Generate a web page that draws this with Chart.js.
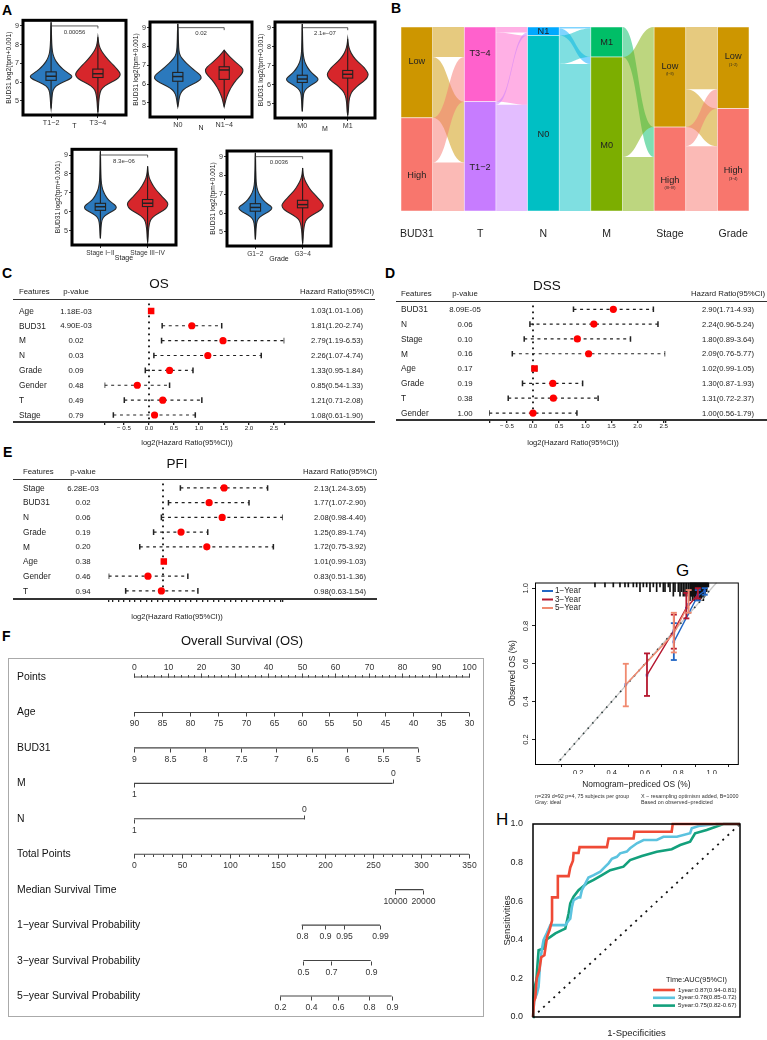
<!DOCTYPE html>
<html><head><meta charset="utf-8"><title>BUD31 figure</title>
<script src="https://cdn.jsdelivr.net/npm/chart.js@4.4.1/dist/chart.umd.min.js"></script>
<style>
html,body{margin:0;padding:0;background:#fff;}
#wrap{position:relative;width:767px;height:1040px;overflow:hidden;background:#fff;}
#wrap canvas{position:absolute;}
.plab{position:absolute;font-family:"Liberation Sans",Arial,Helvetica,sans-serif;line-height:1;color:#000;}
</style></head><body><div id="wrap">
<div class="plab" style="left:2px;top:3px;font-size:14px;font-weight:bold">A</div>
<div class="plab" style="left:391px;top:1px;font-size:14px;font-weight:bold">B</div>
<div class="plab" style="left:2px;top:266px;font-size:14px;font-weight:bold">C</div>
<div class="plab" style="left:385px;top:266px;font-size:14px;font-weight:bold">D</div>
<div class="plab" style="left:3px;top:445px;font-size:14px;font-weight:bold">E</div>
<div class="plab" style="left:2px;top:629px;font-size:14px;font-weight:bold">F</div>
<div class="plab" style="left:676px;top:562px;font-size:17px;">G</div>
<div class="plab" style="left:496px;top:811px;font-size:17px;">H</div>
</div>
<script>
// ================= DATA =================
// Panel A : violin plots
const violinGroups = ["T", "N", "M", "Stage", "Grade"];
const violinCats = [["T1\u22122","T3\u22124"],["N0","N1\u22124"],["M0","M1"],["Stage I\u2212II","Stage III\u2212IV"],["G1\u22122","G3\u22124"]];
const violinP = ["0.00056","0.02","2.1e\u221207","8.3e\u221206","0.0036"];
const densityLevels = [4.4,4.6,4.8,5.0,5.3,5.6,5.8,6.0,6.15,6.3,6.45,6.6,6.8,7.0,7.2,7.5,7.8,8.1,8.4,8.8,9.2];
const densT_low  = [0,0,0.02,0.03,0.05,0.09,0.22,0.55,0.85,1.00,0.85,0.65,0.45,0.30,0.18,0.08,0.045,0.03,0.02,0.015,0];
const densT_high = [0,0.02,0.03,0.04,0.07,0.13,0.30,0.60,0.85,0.97,1.00,0.92,0.78,0.62,0.45,0.25,0.09,0.03,0,0,0];
const densN_low  = [0,0,0,0.03,0.06,0.14,0.32,0.62,0.85,0.98,0.95,0.82,0.62,0.45,0.28,0.09,0.04,0.03,0.02,0.015,0];
const densN_high = [0,0,0,0.05,0.12,0.25,0.35,0.48,0.58,0.70,0.85,0.97,1.00,0.80,0.55,0.25,0,0,0,0,0];
const densM_low  = [0,0,0.02,0.03,0.05,0.09,0.24,0.58,0.88,1.00,0.82,0.60,0.40,0.26,0.15,0.07,0.04,0.03,0.02,0.015,0];
const densM_high = [0,0.03,0.04,0.05,0.08,0.18,0.34,0.55,0.75,0.90,0.99,1.00,0.88,0.72,0.50,0.25,0.10,0.03,0,0,0];
const densS_low  = [0,0,0.02,0.03,0.05,0.10,0.26,0.65,0.95,0.97,0.75,0.52,0.34,0.22,0.13,0.06,0.04,0.03,0.02,0.015,0];
const densS_high = [0,0.02,0.03,0.04,0.07,0.14,0.34,0.65,0.88,0.98,1.00,0.90,0.72,0.55,0.38,0.20,0.07,0.02,0,0,0];
const densG_low  = [0,0,0.02,0.03,0.05,0.10,0.25,0.62,0.92,1.00,0.78,0.55,0.36,0.23,0.13,0.06,0.04,0.03,0.02,0.015,0];
const densG_high = [0,0.02,0.03,0.04,0.07,0.14,0.32,0.62,0.86,0.98,1.00,0.90,0.74,0.57,0.40,0.22,0.08,0.02,0,0,0];
const violinDens = [[densT_low,densT_high],[densN_low,densN_high],[densM_low,densM_high],[densS_low,densS_high],[densG_low,densG_high]];
const violinMaxW = [[0.46,0.48],[0.52,0.41],[0.36,0.45],[0.35,0.43],[0.36,0.44]];
const boxQ1  = [[6.10,6.25],[6.15,6.25],[6.12,6.35],[6.08,6.28],[6.10,6.28]];
const boxMed = [[6.32,6.45],[6.40,6.75],[6.30,6.55],[6.27,6.45],[6.30,6.45]];
const boxQ3  = [[6.55,6.70],[6.62,6.92],[6.50,6.75],[6.45,6.65],[6.50,6.68]];
const bracketY = 9.0;

// Panel B : alluvial (counts)
const sankeyAxes = ["BUD31","T","N","M","Stage","Grade"];
const sankeyStrata = [["Low","High"],["T3\u22124","T1\u22122"],["N1","N0"],["M1","M0"],["Low","High"],["Low","High"]];
const sankeySub = [["",""],["",""],["",""],["",""],["(I\u2212II)","(III\u2212IV)"],["(1\u22122)","(3\u22124)"]];
const flowBUD31_T = [[39,79],[58,63]];
const flowT_N = [[7,90],[4,138]];
const flowN_M = [[2,9],[37,191]];
const flowM_Stage = [[0,39],[130,70]];
const flowStage_Grade = [[81,49],[25,84]];

// Panel C : OS
const osFeatures = ["Age","BUD31","M","N","Grade","Gender","T","Stage"];
const osP  = ["1.18E-03","4.90E-03","0.02","0.03","0.09","0.48","0.49","0.79"];
const osHR = [1.03,1.81,2.79,2.26,1.33,0.85,1.21,1.08];
const osLo = [1.01,1.20,1.19,1.07,0.95,0.54,0.71,0.61];
const osHi = [1.06,2.74,6.53,4.74,1.84,1.33,2.08,1.90];
// Panel D : DSS
const dssFeatures = ["BUD31","N","Stage","M","Age","Grade","T","Gender"];
const dssP  = ["8.09E-05","0.06","0.10","0.16","0.17","0.19","0.38","1.00"];
const dssHR = [2.90,2.24,1.80,2.09,1.02,1.30,1.31,1.00];
const dssLo = [1.71,0.96,0.89,0.76,0.99,0.87,0.72,0.56];
const dssHi = [4.93,5.24,3.64,5.77,1.05,1.93,2.37,1.79];
// Panel E : PFI
const pfiFeatures = ["Stage","BUD31","N","Grade","M","Age","Gender","T"];
const pfiP  = ["6.28E-03","0.02","0.06","0.19","0.20","0.38","0.46","0.94"];
const pfiHR = [2.13,1.77,2.08,1.25,1.72,1.01,0.83,0.98];
const pfiLo = [1.24,1.07,0.98,0.89,0.75,0.99,0.51,0.63];
const pfiHi = [3.65,2.90,4.40,1.74,3.92,1.03,1.36,1.54];
const forestTicks = [-0.5,0,0.5,1,1.5,2,2.5];

// Panel F : nomogram
const nomoRowLabels = ["Points","Age","BUD31","M","N","Total Points","Median Survival Time","1\u2212year Survival Probability","3\u2212year Survival Probability","5\u2212year Survival Probability"];
const pointsTicks = [0,10,20,30,40,50,60,70,80,90,100];
const ageTicks = [90,85,80,75,70,65,60,55,50,45,40,35,30];
const ageAtPoints = [90,30];
const bud31Ticks = [9,8.5,8,7.5,7,6.5,6,5.5,5];
const bud31PointsAtEnds = [0,84.9];
const mLevels = ["1","0"]; const mPoints = [0,77.2];
const nLevels = ["1","0"]; const nPoints = [0,50.8];
const totalTicks = [0,50,100,150,200,250,300,350];
const totalMax = 350;
const medianLabels = ["10000","20000"]; const medianTotal = [272.7,302.3];
const surv1Labels = ["0.8","0.9","0.95","0.99"]; const surv1Total = [175.2,199.6,219.4,257.0];
const surv3Labels = ["0.5","0.7","0.9"]; const surv3Total = [176.9,205.5,247.3];
const surv5Labels = ["0.2","0.4","0.6","0.8","0.9"]; const surv5Total = [152.5,184.9,212.8,245.5,269.2];

// Panel G : calibration
const cal1X = [0.773,0.917,0.958]; const cal1Y = [0.716,0.96,0.985]; const cal1Lo = [0.62,0.935,0.965]; const cal1Hi = [0.815,0.99,1.0];
const cal3X = [0.612,0.773,0.848,0.917]; const cal3Y = [0.54,0.775,0.895,0.965]; const cal3Lo = [0.43,0.68,0.84,0.945]; const cal3Hi = [0.655,0.86,0.975,1.0];
const cal5X = [0.485,0.773,0.862]; const cal5Y = [0.49,0.76,0.915]; const cal5Lo = [0.375,0.66,0.87]; const cal5Hi = [0.60,0.87,0.99];
const calLabels = ["1\u2212Year","3\u2212Year","5\u2212Year"];
const rugX = [0.30,0.36,0.41,0.45,0.48,0.50,0.53,0.55,0.57,0.59,0.61,0.63,0.65,0.67,0.69,0.71,0.72,0.74,0.75,0.77,0.78,0.80,0.81,0.82,0.83,0.84,0.85,0.86,0.87,0.875,0.88,0.885,0.89,0.895,0.90,0.905,0.91,0.915,0.92,0.925,0.93,0.935,0.94,0.945,0.95,0.955,0.96,0.965,0.97,0.975,0.98];
const rugN = [1,1,1,1,1,1,1,1,2,1,1,2,1,2,1,2,2,1,2,3,2,2,3,2,3,3,2,3,4,3,3,4,3,4,4,3,4,3,4,4,3,4,4,3,4,3,3,2,2,1,1];

// Panel H : time-dependent ROC
const roc1X = [0,0.005,0.011,0.018,0.03,0.04,0.055,0.068,0.08,0.092,0.092,0.12,0.12,0.172,0.18,0.193,0.196,0.22,0.225,0.357,0.365,0.486,0.49,0.67,0.675,1.0];
const roc1Y = [0,0.08,0.10,0.2,0.24,0.31,0.32,0.415,0.45,0.50,0.62,0.62,0.73,0.73,0.775,0.81,0.85,0.85,0.88,0.88,0.925,0.925,0.96,0.96,1.0,1.0];
const roc3X = [0,0.006,0.019,0.027,0.035,0.043,0.051,0.067,0.084,0.156,0.172,0.18,0.188,0.196,0.22,0.228,0.236,0.252,0.268,0.293,0.325,0.349,0.365,0.381,0.405,0.421,0.453,0.469,0.502,0.534,0.598,0.63,0.695,0.759,0.767,0.8,0.887,1.0];
const roc3Y = [0,0.087,0.121,0.156,0.29,0.35,0.40,0.435,0.476,0.476,0.5,0.51,0.57,0.605,0.62,0.62,0.657,0.69,0.723,0.735,0.753,0.779,0.796,0.82,0.83,0.848,0.857,0.874,0.90,0.917,0.917,0.934,0.934,0.952,0.978,0.99,1.0,1.0];
const roc5X = [0,0.003,0.008,0.016,0.027,0.051,0.06,0.084,0.108,0.14,0.156,0.172,0.18,0.196,0.22,0.26,0.293,0.333,0.373,0.437,0.469,0.526,0.598,0.67,0.711,0.759,0.783,0.839,0.92,1.0];
const roc5Y = [0,0.104,0.156,0.19,0.346,0.355,0.398,0.415,0.433,0.45,0.458,0.536,0.588,0.623,0.657,0.692,0.71,0.735,0.761,0.779,0.813,0.834,0.856,0.869,0.891,0.908,0.952,0.969,1.0,1.0];
const rocLabels = ["1year:0.87(0.94-0.81)","3year:0.78(0.85-0.72)","5year:0.75(0.82-0.67)"];

// ================= HELPERS =================
const FONT = '"Liberation Sans", Arial, Helvetica, sans-serif';
Chart.defaults.font.family = FONT;
Chart.defaults.color = '#222';
const wrap = document.getElementById('wrap');
function mk(left, top, w, h, cfg){
  const c = document.createElement('canvas');
  c.width = w; c.height = h;
  c.style.left = left+'px'; c.style.top = top+'px'; c.style.width = w+'px'; c.style.height = h+'px';
  wrap.appendChild(c);
  cfg.options = Object.assign({responsive:false, animation:false, devicePixelRatio:1, events:[]}, cfg.options||{});
  cfg.options.plugins = Object.assign({legend:{display:false}, tooltip:{enabled:false}}, cfg.options.plugins||{});
  return new Chart(c.getContext('2d'), cfg);
}
function txt(ctx, s, x, y, size, align, color, weight){
  ctx.font = (weight?weight+' ':'') + size + 'px ' + FONT;
  ctx.fillStyle = color || '#222'; ctx.textAlign = align || 'left'; ctx.textBaseline = 'middle';
  ctx.fillText(s, x, y);
}
function hexA(hex, a){ const n = parseInt(hex.slice(1),16); return 'rgba('+(n>>16)+','+((n>>8)&255)+','+(n&255)+','+a+')'; }
function seg(ctx,x1,y1,x2,y2){ ctx.beginPath(); ctx.moveTo(x1,y1); ctx.lineTo(x2,y2); ctx.stroke(); }
function range(a,b,s){ const r=[]; for(let v=a; v<=b+1e-9; v+=s) r.push(+v.toFixed(6)); return r; }

// ================= PANEL A =================
const violinColors = ['#2B79BD','#D7262B'];
const violinLayout = [
  {left:0,  top:15,  w:130, h:122, pr:4, pt:5, pb:6.5, xh:15.5},
  {left:127,top:15,  w:130, h:122, pr:5, pt:7, pb:4.5, xh:15.5},
  {left:252,top:15,  w:128, h:123, pr:5, pt:7, pb:4.5, xh:15.5},
  {left:49, top:144, w:131, h:124, pr:4, pt:5, pb:5.8, xh:17.2},
  {left:204,top:144, w:131, h:124, pr:4, pt:7, pb:4.8, xh:17.2}
];
function drawViolin(ctx, xs, ys, cx, dens, maxW, color, q1, med, q3){
  let a = dens.findIndex(v=>v>0);
  let b = dens.length-1-[...dens].reverse().findIndex(v=>v>0);
  const lo = Math.max(a-1,0), hi = Math.min(b+1,dens.length-1);
  const pts = [];
  for(let i=lo;i<=hi;i++) pts.push([xs.getPixelForValue(cx+dens[i]*maxW), ys.getPixelForValue(densityLevels[i])]);
  for(let i=hi;i>=lo;i--) pts.push([xs.getPixelForValue(cx-dens[i]*maxW), ys.getPixelForValue(densityLevels[i])]);
  ctx.beginPath(); ctx.moveTo(pts[0][0],pts[0][1]);
  for(let i=1;i<pts.length-1;i++){
    const mx=(pts[i][0]+pts[i+1][0])/2, my=(pts[i][1]+pts[i+1][1])/2;
    ctx.quadraticCurveTo(pts[i][0],pts[i][1],mx,my);
  }
  ctx.lineTo(pts[pts.length-1][0],pts[pts.length-1][1]); ctx.closePath();
  ctx.fillStyle = color; ctx.fill();
  ctx.strokeStyle = '#2a2a2a'; ctx.lineWidth = 1.1; ctx.stroke();
  const px = xs.getPixelForValue(cx);
  ctx.strokeStyle = '#1a1a1a'; ctx.lineWidth = 1;
  seg(ctx, px, ys.getPixelForValue(densityLevels[lo]), px, ys.getPixelForValue(densityLevels[hi]));
  const bl = xs.getPixelForValue(cx-0.11), br = xs.getPixelForValue(cx+0.11);
  const yq1 = ys.getPixelForValue(q1), yq3 = ys.getPixelForValue(q3), ym = ys.getPixelForValue(med);
  ctx.fillStyle = color; ctx.fillRect(bl, yq3, br-bl, yq1-yq3);
  ctx.strokeStyle = '#222'; ctx.lineWidth = 1.1; ctx.strokeRect(bl, yq3, br-bl, yq1-yq3);
  ctx.lineWidth = 1.5; seg(ctx, bl, ym, br, ym);
}
violinGroups.forEach((g,i)=>{
  const L = violinLayout[i];
  const plug = {id:'violin'+i, afterDatasetsDraw(chart){
    const ctx=chart.ctx, xs=chart.scales.x, ys=chart.scales.y, a=chart.chartArea;
    ctx.save(); ctx.beginPath(); ctx.rect(a.left,a.top,a.right-a.left,a.bottom-a.top); ctx.clip();
    [0,1].forEach(k=>drawViolin(ctx,xs,ys,k+1,violinDens[i][k],violinMaxW[i][k],violinColors[k],boxQ1[i][k],boxMed[i][k],boxQ3[i][k]));
    const yb=ys.getPixelForValue(bracketY), x1=xs.getPixelForValue(1), x2=xs.getPixelForValue(2);
    ctx.strokeStyle='#333'; ctx.lineWidth=0.8;
    ctx.beginPath(); ctx.moveTo(x1,yb+2.5); ctx.lineTo(x1,yb); ctx.lineTo(x2,yb); ctx.lineTo(x2,yb+2.5); ctx.stroke();
    txt(ctx, violinP[i], (x1+x2)/2, yb+6, 6, 'center', '#333');
    ctx.restore();
    ctx.lineWidth=3; ctx.strokeStyle='#000'; ctx.strokeRect(a.left,a.top,a.right-a.left,a.bottom-a.top);
  }};
  mk(L.left, L.top, L.w, L.h, {type:'scatter',
    data:{datasets:[{data:boxMed[i].map((m,k)=>({x:k+1,y:m})), pointRadius:0}]},
    options:{layout:{padding:{left:0,right:L.pr,top:L.pt,bottom:L.pb}},
      scales:{
        x:{type:'linear',min:0.4,max:2.6,
           afterBuildTicks:s=>{s.ticks=[{value:1},{value:2}];},
           ticks:{callback:v=>violinCats[i][Math.round(v)-1], font:{size:i>2?6.6:7.2}, color:'#333', padding:1, maxRotation:0, autoSkip:false},
           grid:{display:true, drawOnChartArea:false, tickLength:3, color:'#333'}, border:{display:false},
           title:{display:true, text:g, font:{size:7}, color:'#222', padding:{top:0,bottom:0}},
           afterFit:s=>{s.height=L.xh;}},
        y:{type:'linear',min:4.25,max:9.3,
           afterBuildTicks:s=>{s.ticks=[5,6,7,8,9].map(v=>({value:v}));},
           ticks:{font:{size:7.2}, color:'#333', padding:1},
           grid:{display:true, drawOnChartArea:false, tickLength:3, color:'#333'}, border:{display:false},
           title:{display:true, text:'BUD31 log2(tpm+0.001)', font:{size:6.7}, color:'#222', padding:{top:5.5,bottom:0}},
           afterFit:s=>{s.width=23;}}
      }},
    plugins:[plug]});
});

// ================= PANEL B =================
const strataColors = [["#CD9600","#F8766D"],["#FF61CC","#C77CFF"],["#00A9FF","#00BFC4"],["#00BE67","#7CAE00"],["#CD9600","#F8766D"],["#CD9600","#F8766D"]];
const sankeyFlows = [flowBUD31_T, flowT_N, flowN_M, flowM_Stage, flowStage_Grade];
function strataTotals(a){
  if(a===0) return sankeyFlows[0].map(r=>r.reduce((s,v)=>s+v,0));
  const F = sankeyFlows[a-1];
  return F[0].map((_,t)=>F.reduce((s,r)=>s+r[t],0));
}
const sankeyTotal = strataTotals(0).reduce((s,v)=>s+v,0);
const sankeyPlugin = {id:'sankey', afterDatasetsDraw(chart){
  const ctx=chart.ctx, xs=chart.scales.x, ys=chart.scales.y, W=0.25;
  const bounds = sankeyAxes.map((_,a)=>{ let top=sankeyTotal; return strataTotals(a).map(c=>{ const b={top:top, bot:top-c}; top-=c; return b; }); });
  sankeyFlows.forEach((F,a)=>{
    const lOff = bounds[a].map(b=>b.top), rOff = bounds[a+1].map(b=>b.top);
    const lpos={}, rpos={};
    F.forEach((row,s)=>row.forEach((c,t)=>{ lpos[s+'_'+t]=[lOff[s], lOff[s]-c]; lOff[s]-=c; }));
    for(let t=0;t<F[0].length;t++) for(let s=0;s<F.length;s++){ const c=F[s][t]; rpos[s+'_'+t]=[rOff[t], rOff[t]-c]; rOff[t]-=c; }
    const x0=xs.getPixelForValue(a+1+W), x1=xs.getPixelForValue(a+2-W), xm=(x0+x1)/2;
    F.forEach((row,s)=>row.forEach((c,t)=>{
      if(c<=0) return;
      const l=lpos[s+'_'+t], r=rpos[s+'_'+t];
      const yl0=ys.getPixelForValue(l[0]), yl1=ys.getPixelForValue(l[1]), yr0=ys.getPixelForValue(r[0]), yr1=ys.getPixelForValue(r[1]);
      ctx.beginPath(); ctx.moveTo(x0,yl0); ctx.bezierCurveTo(xm,yl0,xm,yr0,x1,yr0); ctx.lineTo(x1,yr1);
      ctx.bezierCurveTo(xm,yr1,xm,yl1,x0,yl1); ctx.closePath();
      ctx.fillStyle = hexA(strataColors[a][s],0.5); ctx.fill();
    }));
  });
  bounds.forEach((B,a)=>{
    const xl=xs.getPixelForValue(a+1-W), xr=xs.getPixelForValue(a+1+W), xc=(xl+xr)/2;
    B.forEach((b,k)=>{
      const yt=ys.getPixelForValue(b.top), yb=ys.getPixelForValue(b.bot);
      ctx.fillStyle=strataColors[a][k]; ctx.fillRect(xl,yt,xr-xl,yb-yt);
      ctx.strokeStyle='rgba(255,255,255,0.7)'; ctx.lineWidth=0.7; ctx.strokeRect(xl,yt,xr-xl,yb-yt);
    });
    B.forEach((b,k)=>{
      const yt=ys.getPixelForValue(b.top), yb=ys.getPixelForValue(b.bot);
      let yc=(yt+yb)/2; const hgt=yb-yt;
      if(hgt>50) yc += (k===0?-11:11);
      txt(ctx, sankeyStrata[a][k], xc, yc, 9.2, 'center', '#222');
      if(sankeySub[a][k]) txt(ctx, sankeySub[a][k], xc, yc+8, 3.6, 'center', '#222');
    });
  });
}};
mk(380,20,387,220,{type:'scatter', data:{datasets:[{data:[], pointRadius:0}]},
  options:{layout:{padding:{left:21,right:18,top:7,bottom:0}},
    scales:{
      x:{type:'linear',min:0.75,max:6.25, afterBuildTicks:s=>{s.ticks=sankeyAxes.map((_,i)=>({value:i+1}));},
         ticks:{callback:v=>sankeyAxes[Math.round(v)-1], font:{size:10.5}, color:'#222', padding:8.8, maxRotation:0, autoSkip:false},
         grid:{display:false}, border:{display:false}, afterFit:s=>{s.height=29;}},
      y:{display:false, min:0, max:sankeyTotal}
    }},
  plugins:[sankeyPlugin]});

// ================= PANELS C / D / E =================
function fmtTick(v){ return v < -1e-9 ? '\u2212 '+Math.abs(v).toFixed(1) : Math.abs(v).toFixed(1); }
function forest(P){
  const lx=P.lo.map(v=>Math.log2(v)), hx=P.hi.map(v=>Math.log2(v)), px=P.hr.map(v=>Math.log2(v));
  const xmin=Math.min(...lx), xmax=Math.max(...hx);
  const ticks=[xmin].concat(P.ticks,[xmax]);
  const z=P.zeroX-P.left;
  const padL=z+xmin*P.ppu, padR=P.w-(z+xmax*P.ppu);
  const datasets=[{data:px.map((v,i)=>({x:v,y:i})),
    pointStyle:px.map((v,i)=>hx[i]-lx[i]<0.15?'rect':'circle'),
    pointRadius:px.map((v,i)=>hx[i]-lx[i]<0.15?4.6:3.6),
    pointBackgroundColor:'#FF0000', pointBorderWidth:0, order:0}];
  lx.forEach((v,i)=>datasets.push({data:[{x:v,y:i},{x:hx[i],y:i}], showLine:true, borderColor:'#222', borderWidth:1.2, borderDash:[3,3.6],
    pointStyle:'line', pointRotation:90, pointRadius:2.8, pointBorderColor:'#222', pointBorderWidth:1.5, order:1}));
  datasets.push({data:[{x:0,y:P.ymin+0.3},{x:0,y:P.ymax-0.15}], showLine:true, borderColor:'#111', borderWidth:1.8, borderDash:[1.8,4.2], pointRadius:0, order:2});
  const plug={id:'forest'+P.title, afterDraw(chart){
    const ctx=chart.ctx, a=chart.chartArea, ys=chart.scales.y;
    txt(ctx, P.title, P.titleX, a.top-15, 13.5, 'center', '#111');
    txt(ctx, 'Features', P.fx, a.top-7.5, 7.8, 'left', '#222');
    txt(ctx, 'p-value', P.pX, a.top-7.5, 7.8, 'center', '#222');
    txt(ctx, 'Hazard Ratio(95%CI)', P.hrX, a.top-7.5, 7.8, 'center', '#222');
    ctx.strokeStyle='#333'; ctx.lineWidth=1.2; seg(ctx, P.l0, a.top+0.5, P.l1, a.top+0.5);
    ctx.lineWidth=2.2; seg(ctx, P.l0, a.bottom, P.l1, a.bottom);
    P.features.forEach((f,i)=>{
      const yy=ys.getPixelForValue(i)+0.5;
      txt(ctx, f, P.fx, yy, 8.3, 'left', '#222');
      txt(ctx, P.p[i], P.pX, yy, 7.8, 'center', '#222');
      txt(ctx, P.hr[i].toFixed(2)+'('+P.lo[i].toFixed(2)+'-'+P.hi[i].toFixed(2)+')', P.hrX, yy, 7.6, 'center', '#222');
    });
    txt(ctx, 'log2(Hazard Ratio(95%CI))', P.atX, P.atY, 7.6, 'center', '#222');
  }};
  mk(P.left,P.top,P.w,P.h,{type:'scatter', data:{datasets},
    options:{layout:{padding:{left:padL,right:padR,top:P.padT,bottom:P.padB}},
      scales:{
        x:{type:'linear',min:xmin,max:xmax, afterBuildTicks:s=>{s.ticks=ticks.map(v=>({value:v}));},
           ticks:{autoSkip:false, maxRotation:0, font:{size:6.2}, color:'#222', padding:0,
                  callback:v=>(P.noLabels||Math.abs(v-xmin)<1e-6||Math.abs(v-xmax)<1e-6)?'':fmtTick(v)},
           grid:{display:true, drawOnChartArea:false, drawTicks:true, tickLength:3, color:'#222', lineWidth:1.3},
           border:{display:false}, afterFit:s=>{s.height=10;}},
        y:{display:false, min:P.ymin, max:P.ymax, reverse:true}
      }},
    plugins:[plug]});
}
forest({title:'OS', features:osFeatures, p:osP, hr:osHR, lo:osLo, hi:osHi, ticks:forestTicks,
  left:0, top:262, w:380, h:190, zeroX:149, ppu:50, padT:37, padB:20, ymin:-0.8, ymax:7.47,
  fx:19, pX:76, hrX:337, l0:13, l1:375, titleX:159, atX:187, atY:181});
forest({title:'DSS', features:dssFeatures, p:dssP, hr:dssHR, lo:dssLo, hi:dssHi, ticks:forestTicks,
  left:380, top:262, w:387, h:190, zeroX:533, ppu:52.3, padT:39, padB:22, ymin:-0.56, ymax:7.47,
  fx:21, pX:85, hrX:348, l0:16, l1:387, titleX:167, atX:193, atY:181});
forest({title:'PFI', features:pfiFeatures, p:pfiP, hr:pfiHR, lo:pfiLo, hi:pfiHi, ticks:range(-0.9,2.1,0.1), noLabels:true,
  left:0, top:442, w:380, h:190, zeroX:163, ppu:56, padT:37, padB:23, ymin:-0.61, ymax:7.55,
  fx:23, pX:83, hrX:340, l0:13, l1:377, titleX:177, atX:177, atY:175});

// ================= PANEL F =================
const nomoRows = [
  {ticks:pointsTicks.map(v=>({p:v,t:String(v)})), minor:range(0,100,2), dir:-1},
  {ticks:ageTicks.map(v=>({p:(ageAtPoints[0]-v)/(ageAtPoints[0]-ageAtPoints[1])*100, t:String(v)})), dir:1},
  {ticks:bud31Ticks.map(v=>({p:(bud31Ticks[0]-v)/(bud31Ticks[0]-bud31Ticks[bud31Ticks.length-1])*bud31PointsAtEnds[1], t:String(v)})), dir:1},
  {ticks:mLevels.map((t,k)=>({p:mPoints[k], t:t, dir:k===0?1:-1})), dir:1},
  {ticks:nLevels.map((t,k)=>({p:nPoints[k], t:t, dir:k===0?1:-1})), dir:1},
  {ticks:totalTicks.map(v=>({p:v/totalMax*100, t:String(v)})), minor:range(0,350,10).map(v=>v/totalMax*100), dir:1},
  {ticks:medianLabels.map((t,k)=>({p:medianTotal[k]/totalMax*100, t:t})), dir:1},
  {ticks:surv1Labels.map((t,k)=>({p:surv1Total[k]/totalMax*100, t:t})), dir:1},
  {ticks:surv3Labels.map((t,k)=>({p:surv3Total[k]/totalMax*100, t:t})), dir:1},
  {ticks:surv5Labels.map((t,k)=>({p:surv5Total[k]/totalMax*100, t:t})), dir:1}
];
const nomoPlugin = {id:'nomo', afterDatasetsDraw(chart){
  const ctx=chart.ctx, xs=chart.scales.x, ys=chart.scales.y;
  ctx.strokeStyle='#aaa'; ctx.lineWidth=1; ctx.strokeRect(8.5,33.5,475,358);
  txt(ctx,'Overall Survival (OS)',242,16,13,'center','#111');
  nomoRows.forEach((r,i)=>{
    const yy=Math.round(ys.getPixelForValue(i))+0.5;
    txt(ctx, nomoRowLabels[i], 17, yy, 10.4, 'left', '#111');
    ctx.strokeStyle='#444'; ctx.lineWidth=1;
    (r.minor||[]).forEach(p=>{ const xx=Math.round(xs.getPixelForValue(p))+0.5; seg(ctx,xx,yy,xx,yy+r.dir*2.5); });
    r.ticks.forEach(tk=>{
      const d=tk.dir||r.dir, xx=Math.round(xs.getPixelForValue(tk.p))+0.5;
      seg(ctx,xx,yy,xx,yy+d*4);
      txt(ctx, tk.t, xx, yy+d*(d>0?11:10), 8.6, 'center', '#333');
    });
  });
}};
mk(0,625,490,395,{type:'scatter',
  data:{datasets:nomoRows.map((r,i)=>{ const ps=r.ticks.map(t=>t.p); return {data:[{x:Math.min(...ps),y:i},{x:Math.max(...ps),y:i}], showLine:true, borderColor:'#444', borderWidth:1.1, pointRadius:0}; })},
  options:{layout:{padding:{left:134,right:21,top:34.3,bottom:6.3}},
    scales:{x:{display:false,type:'linear',min:0,max:100}, y:{display:false,min:-0.5,max:9.5,reverse:true}}},
  plugins:[nomoPlugin]});

// ================= PANEL G =================
const calColors = ['#2166C4','#B5172F','#F08A70'];
const calSeries = [[cal1X,cal1Y,cal1Lo,cal1Hi],[cal3X,cal3Y,cal3Lo,cal3Hi],[cal5X,cal5Y,cal5Lo,cal5Hi]];
const calPlugin = {id:'calib', afterDraw(chart){
  const ctx=chart.ctx, xs=chart.scales.x, ys=chart.scales.y, a=chart.chartArea;
  calSeries.forEach((s,k)=>{
    ctx.strokeStyle=calColors[k]; ctx.lineWidth=1.8;
    s[0].forEach((xv,i)=>{
      const xx=xs.getPixelForValue(xv), y1=ys.getPixelForValue(s[2][i]), y2=ys.getPixelForValue(s[3][i]);
      seg(ctx,xx,y1,xx,y2); seg(ctx,xx-3,y1,xx+3,y1); seg(ctx,xx-3,y2,xx+3,y2);
    });
  });
  ctx.strokeStyle='#000'; ctx.lineWidth=1; ctx.strokeRect(a.left+0.5,a.top+0.5,a.right-a.left,a.bottom-a.top);
  [0.2,0.4,0.6,0.8,1.0].forEach(v=>{
    const yy=ys.getPixelForValue(v);
    ctx.save(); ctx.translate(a.left-9,yy); ctx.rotate(-Math.PI/2); txt(ctx,v.toFixed(1),0,0,7.5,'center','#222'); ctx.restore();
  });
  ctx.save(); ctx.translate(a.left-22,(a.top+a.bottom)/2); ctx.rotate(-Math.PI/2); txt(ctx,'Observed OS (%)',0,0,8.4,'center','#222'); ctx.restore();
  txt(ctx,'Nomogram\u2212prediced OS (%)',(a.left+a.right)/2,207,8.4,'center','#222');
  calLabels.forEach((l,k)=>{
    const yy=a.top+8.5+k*8.5;
    ctx.strokeStyle=calColors[k]; ctx.lineWidth=2; seg(ctx,a.left+7,yy,a.left+18,yy);
    txt(ctx,l,a.left+20,yy,8.2,'left','#222');
  });
  txt(ctx,'n=239 d=92 p=4, 75 subjects per group',a.left,219,5.4,'left','#333');
  txt(ctx,'Gray: ideal',a.left,224.5,5.4,'left','#333');
  txt(ctx,'X \u2212 resampling optimism added, B=1000',a.left+106,219,5.4,'left','#333');
  txt(ctx,'Based on observed\u2212predicted',a.left+106,224.5,5.4,'left','#333');
}};
const calDatasets = [
  {type:'bar', data:rugX.map((x,i)=>({x:x,y:rugN[i]})), yAxisID:'yr', backgroundColor:'#111', barThickness:1, order:9},
  {data:[{x:0.08,y:0.08},{x:1.03,y:1.03}], showLine:true, borderColor:'#c8c8c8', borderWidth:1.3, pointRadius:0, order:8},
  {data:[{x:0.09,y:0.09},{x:1.0,y:1.0}], showLine:true, borderColor:'#2a3a3a', borderWidth:1.7, borderDash:[1.5,5.5], pointRadius:0, order:7}
];
calSeries.forEach((s,k)=>calDatasets.push({data:s[0].map((x,i)=>({x:x,y:s[1][i]})), showLine:true, borderColor:calColors[k], borderWidth:1.4,
  pointStyle:'rect', pointRadius:1.8, pointBackgroundColor:'#3050d0', pointBorderWidth:0, order:3-k, clip:4}));
mk(490,578,277,232,{type:'scatter', data:{datasets:calDatasets},
  options:{layout:{padding:{left:0,right:29.2,top:4.5,bottom:36}},
    scales:{
      x:{type:'linear',min:0.062,max:1.035, afterBuildTicks:s=>{s.ticks=[0.2,0.4,0.6,0.8,1.0].map(v=>({value:v}));},
         ticks:{callback:v=>v.toFixed(1), font:{size:7.5}, color:'#222', padding:1, maxRotation:0, autoSkip:false},
         grid:{display:true, drawOnChartArea:false, tickLength:3, color:'#222'}, border:{display:false}, afterFit:s=>{s.height=10;}},
      y:{type:'linear',min:0.07,max:1.03, afterBuildTicks:s=>{s.ticks=[0.2,0.4,0.6,0.8,1.0].map(v=>({value:v}));},
         ticks:{display:false}, grid:{display:true, drawOnChartArea:false, tickLength:3, color:'#222'}, border:{display:false}, afterFit:s=>{s.width=45;}},
      yr:{display:false, type:'linear', min:0, max:40, reverse:true}
    }},
  plugins:[calPlugin]});

// ================= PANEL H =================
const rocColors = ['#EF4A36','#5CC3DF','#13A07C'];
const rocSeries = [[roc1X,roc1Y],[roc3X,roc3Y],[roc5X,roc5Y]];
const rocPlugin = {id:'roc', afterDraw(chart){
  const ctx=chart.ctx, a=chart.chartArea;
  ctx.strokeStyle='#000'; ctx.lineWidth=1.5; ctx.strokeRect(a.left,a.top,a.right-a.left,a.bottom-a.top);
  ctx.save(); ctx.translate(17,(a.top+a.bottom)/2); ctx.rotate(-Math.PI/2); txt(ctx,'Sensitivities',0,0,9.5,'center','#222'); ctx.restore();
  txt(ctx,'1-Specificities',(a.left+a.right)/2,223,9.5,'center','#222');
  txt(ctx,'Time:AUC(95%CI)',176,170,7.4,'left','#222');
  rocLabels.forEach((l,k)=>{
    const yy=180+k*7.8;
    ctx.strokeStyle=rocColors[k]; ctx.lineWidth=2.6; seg(ctx,163,yy,185,yy);
    txt(ctx,l,188,yy,6.1,'left','#222');
  });
}};
const rocDatasets = [{data:[{x:0,y:0},{x:1,y:1}], showLine:true, borderColor:'#111', borderWidth:1.8, borderDash:[2,5], pointRadius:0, order:9}];
rocSeries.forEach((s,k)=>rocDatasets.push({data:s[0].map((x,i)=>({x:x,y:s[1][i]})), showLine:true, borderColor:rocColors[k], borderWidth:2.6, pointRadius:0, order:k, clip:4}));
mk(490,810,277,230,{type:'scatter', data:{datasets:rocDatasets},
  options:{layout:{padding:{left:0,right:27,top:14,bottom:13}},
    scales:{
      x:{type:'linear',min:0,max:1, afterBuildTicks:s=>{s.ticks=[0,0.2,0.4,0.6,0.8,1].map(v=>({value:v}));},
         ticks:{callback:v=>v.toFixed(1), font:{size:9}, color:'#222', padding:0, maxRotation:0, autoSkip:false},
         grid:{display:false}, border:{display:false}, afterFit:s=>{s.height=10;}},
      y:{type:'linear',min:0,max:1, afterBuildTicks:s=>{s.ticks=[0,0.2,0.4,0.6,0.8,1].map(v=>({value:v}));},
         ticks:{callback:v=>v.toFixed(1), font:{size:9}, color:'#222', padding:2},
         grid:{display:false}, border:{display:false}, afterFit:s=>{s.width=43;}}
    }},
  plugins:[rocPlugin]});
</script></body></html>
